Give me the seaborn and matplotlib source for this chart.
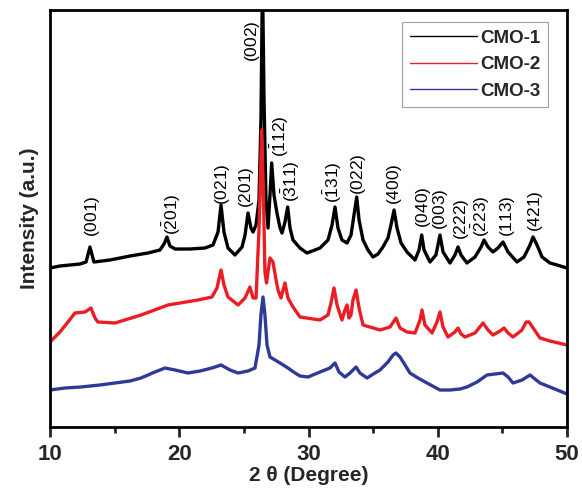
import matplotlib
matplotlib.use("Agg")
import matplotlib.pyplot as plt
from matplotlib.ticker import MultipleLocator
import seaborn as sns
import pandas as pd

# ---------------- data ----------------
two_theta_1 = [10.00, 10.77, 11.55, 12.32, 12.79, 13.09, 13.40, 14.64, 16.19, 17.58,
               18.51, 18.82, 19.05, 19.28, 19.67, 20.83, 21.99, 22.61, 23.00, 23.23,
               23.46, 23.77, 24.31, 24.86, 25.09, 25.32, 25.55, 25.71, 25.94, 26.17,
               26.32, 26.44, 26.56, 26.71, 26.87, 27.02, 27.15, 27.33, 27.56, 27.80,
               27.95, 28.18, 28.39, 28.57, 28.80, 29.34, 29.88, 30.50, 30.89, 31.51,
               31.82, 32.05, 32.28, 32.59, 32.98, 33.29, 33.52, 33.73, 33.91, 34.22,
               34.60, 34.99, 35.38, 35.76, 36.15, 36.38, 36.62, 36.85, 37.16, 37.62,
               38.24, 38.55, 38.76, 38.94, 39.40, 39.86, 40.17, 40.41, 40.95, 41.33,
               41.57, 41.80, 42.26, 42.88, 43.35, 43.58, 43.89, 44.27, 44.66, 45.05,
               45.44, 46.13, 46.67, 47.14, 47.37, 47.68, 48.07, 48.68, 49.23, 50.00]
cmo1 = [159, 161, 162, 163, 165, 180, 165, 167, 171, 174,
        177, 183, 190, 181, 178, 178, 179, 182, 195, 222,
        195, 179, 172, 180, 192, 214, 199, 195, 202, 227,
        307, 447, 327, 227, 199, 232, 264, 232, 214, 199,
        194, 205, 220, 199, 187, 179, 174, 177, 179, 187,
        202, 220, 199, 187, 184, 192, 212, 230, 207, 187,
        177, 170, 173, 180, 189, 202, 217, 199, 184, 175,
        167, 177, 192, 177, 165, 172, 192, 175, 164, 172,
        180, 172, 164, 170, 180, 187, 180, 175, 179, 185,
        175, 165, 170, 182, 190, 182, 170, 164, 162, 159]

two_theta_2 = [10.00, 10.77, 11.39, 11.93, 12.71, 13.17, 13.48, 13.71, 15.03, 17.04,
               19.13, 21.45, 22.53, 22.92, 23.23, 23.46, 23.77, 24.55, 25.09, 25.47,
               25.71, 25.94, 26.17, 26.38, 26.52, 26.63, 26.75, 27.02, 27.25, 27.49,
               27.64, 27.87, 28.18, 28.41, 28.80, 29.34, 30.89, 31.51, 31.74, 31.97,
               32.21, 32.59, 32.82, 32.98, 33.13, 33.29, 33.44, 33.68, 33.91, 34.22,
               35.53, 36.31, 36.77, 37.08, 37.62, 38.24, 38.63, 38.78, 39.01, 39.56,
               39.94, 40.17, 40.41, 40.79, 41.33, 41.57, 41.80, 42.11, 42.88, 43.50,
               43.89, 44.27, 44.82, 45.13, 45.44, 45.82, 46.52, 46.83, 47.06, 47.91,
               48.68, 50.00]
cmo2 = [85, 95, 105, 114, 115, 119, 109, 105, 104, 112,
        122, 127, 130, 139, 157, 142, 130, 122, 129, 140,
        129, 129, 197, 297, 227, 155, 144, 169, 165, 147,
        137, 129, 144, 129, 120, 110, 107, 112, 124, 139,
        122, 107, 117, 122, 109, 112, 127, 137, 119, 102,
        97, 100, 109, 99, 95, 94, 107, 117, 102, 94,
        105, 115, 100, 90, 95, 99, 93, 90, 94, 104,
        97, 92, 96, 99, 94, 90, 97, 105, 105, 89,
        86, 82]

two_theta_3 = [10.00, 11.16, 12.40, 13.87, 15.03, 16.19, 17.04, 18.12, 18.90, 19.67,
               20.68, 21.61, 22.53, 23.23, 23.93, 24.55, 25.32, 25.86, 26.17, 26.32,
               26.48, 26.63, 26.79, 27.02, 27.41, 27.80, 28.41, 28.96, 29.34, 29.96,
               30.89, 31.66, 32.05, 32.36, 32.82, 33.21, 33.68, 33.98, 34.53, 35.14,
               35.53, 36.15, 36.54, 36.77, 37.08, 37.47, 37.85, 38.47, 39.17, 40.17,
               40.95, 41.72, 42.26, 43.04, 43.81, 44.43, 45.05, 45.44, 45.82, 46.52,
               47.14, 47.52, 47.91, 48.68, 50.00]
cmo3 = [37, 39, 40, 42, 44, 46, 49, 55, 59, 57,
        54, 56, 59, 62, 57, 54, 56, 59, 82, 112,
        130, 112, 82, 70, 67, 64, 59, 54, 51, 50,
        55, 59, 64, 55, 50, 54, 60, 54, 49, 54,
        57, 65, 72, 74, 70, 62, 54, 49, 44, 37,
        37, 38, 40, 45, 52, 53, 54, 50, 44, 47,
        52, 48, 44, 40, 33]

samples = ["CMO-1", "CMO-2", "CMO-3"]
colors = ["#000000", "#ec1c24", "#2e3a97"]

peak_labels = [r"(001)", r"(\bar{2}01)", r"(021)", r"(201)", r"(002)", r"(\bar{1}12)",
               r"(\bar{3}11)", r"(\bar{1}31)", r"(022)", r"(400)", r"(040)", r"(003)",
               r"(222)", r"(\bar{2}23)", r"(113)", r"(421)"]
peak_pos = [13.25, 19.45, 23.31, 25.24, 25.63, 27.75, 28.65, 31.92, 33.83, 36.69,
            38.86, 40.25, 41.80, 43.30, 45.36, 47.60]
peak_label_base = [190, 192, 222, 219, 365, 270, 225, 224, 232, 222,
                   199, 197, 187, 190, 190, 195]

# ---------------- build long table ----------------
frames = []
for name, xs, ys in zip(samples, [two_theta_1, two_theta_2, two_theta_3], [cmo1, cmo2, cmo3]):
    frames.append(pd.DataFrame({"two_theta": xs, "intensity": ys, "sample": name}))
df = pd.concat(frames, ignore_index=True)

# ---------------- style ----------------
sns.set_theme(style="ticks")
plt.rcParams["font.family"] = ["Liberation Sans", "DejaVu Sans"]
plt.rcParams["mathtext.fontset"] = "custom"
plt.rcParams["mathtext.rm"] = "Liberation Sans"
plt.rcParams["mathtext.it"] = "Liberation Sans:italic"
plt.rcParams["mathtext.bf"] = "Liberation Sans:bold"

fig = plt.figure(figsize=(5.82, 4.96), dpi=100)
ax = fig.add_axes([50 / 582, 1 - 427 / 496, 517 / 582, 417 / 496])

sns.lineplot(data=df, x="two_theta", y="intensity", hue="sample",
             palette=dict(zip(samples, colors)), estimator=None, sort=False,
             linewidth=2.4, ax=ax)

ax.set_xlim(10, 50)
ax.set_ylim(0, 417)
ax.xaxis.set_major_locator(MultipleLocator(10))
ax.xaxis.set_minor_locator(MultipleLocator(5))
ax.set_yticks([])
ax.tick_params(axis="x", which="major", direction="out", length=7, width=2,
               labelsize=16, pad=5)
ax.tick_params(axis="x", which="minor", direction="out", length=4, width=2)
for lab in ax.get_xticklabels():
    lab.set_fontweight("bold")
for sp in ax.spines.values():
    sp.set_visible(True)
    sp.set_linewidth(2)
    sp.set_color("black")

ax.set_xlabel("2 θ (Degree)", fontsize=15, fontweight="bold", labelpad=1)
ax.set_ylabel("Intensity (a.u.)", fontsize=15, fontweight="bold", labelpad=8)

for lab, xp, yb in zip(peak_labels, peak_pos, peak_label_base):
    ax.text(xp, yb, "$\\mathregular{" + lab + "}$", rotation=90, ha="center",
            va="bottom", fontsize=12.5, color="black")

leg = ax.legend(loc="upper right", bbox_to_anchor=(0.963, 0.971), borderaxespad=0,
                frameon=True, fancybox=False, edgecolor="#888888",
                prop={"weight": "bold", "size": 13.5}, handlelength=3.6,
                handletextpad=0.15, labelspacing=0.5, borderpad=0.4)
leg.get_frame().set_linewidth(0.8)
for h in leg.get_lines():
    h.set_linewidth(1.0)

fig.savefig("out.png", dpi=100)
